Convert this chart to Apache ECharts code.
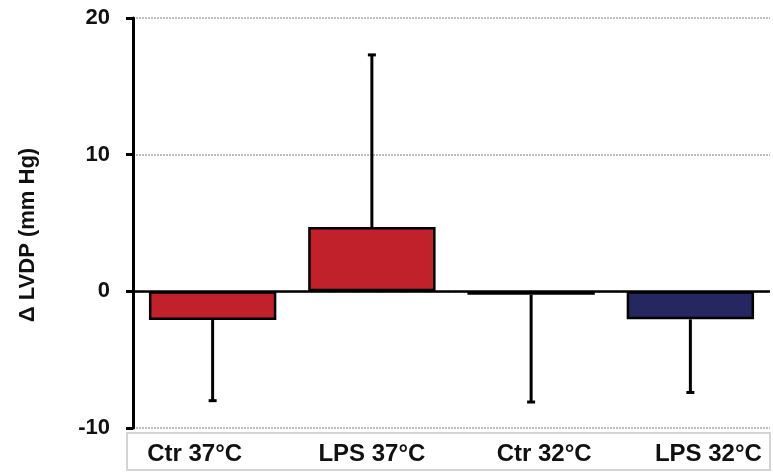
<!DOCTYPE html>
<html>
<head>
<meta charset="utf-8">
<script src="https://cdn.jsdelivr.net/npm/echarts@6/dist/echarts.min.js"></script>
<style>
  html, body { margin: 0; padding: 0; background: #fff; }
  #chart { width: 773px; height: 472px; }
</style>
</head>
<body>
<div id="chart"></div>
<script>
// Change in LVDP per group (mean and error-bar end), mm Hg
const categories = ['Ctr 37°C', 'LPS 37°C', 'Ctr 32°C', 'LPS 32°C'];
const means = [-2.1, 4.7, -0.25, -2.05];
const errorEnds = [-8.0, 17.3, -8.1, -7.4];
const barColors = ['#c1212a', '#c1212a', '#c1212a', '#262660'];
const yTicks = [-10, 0, 10, 20];
// horizontal nudges of the category labels (px, + = right)
const labelShift = [-18, 0, 13, 18];

const FONT = 'Liberation Sans, Arial, sans-serif';
const chart = echarts.init(document.getElementById('chart'));

const barData = means.map((v, i) => ({
  value: v,
  itemStyle: { color: barColors[i] }
}));

const errData = means.map((v, i) => [i, v, errorEnds[i]]);

function renderError(params, api) {
  const i = api.value(0);
  const p0 = api.coord([i, api.value(1)]);
  const p1 = api.coord([i, api.value(2)]);
  const cap = 4;
  const style = { stroke: '#000', lineWidth: 3 };
  return {
    type: 'group',
    children: [
      { type: 'line', shape: { x1: p0[0], y1: p0[1], x2: p1[0], y2: p1[1] }, style },
      { type: 'line', shape: { x1: p1[0] - cap, y1: p1[1], x2: p1[0] + cap, y2: p1[1] }, style }
    ]
  };
}

// one rich style per label so each can be nudged sideways
const rich = {};
labelShift.forEach((s, i) => {
  rich['c' + i] = {
    fontFamily: FONT,
    fontWeight: 'bold',
    fontSize: 24,
    color: '#111',
    padding: s < 0 ? [0, -2 * s, 0, 0] : [0, 0, 0, 2 * s]
  };
});

chart.setOption({
  animation: false,
  backgroundColor: '#fff',
  grid: { left: 133, right: 3, top: 18, bottom: 44 },
  xAxis: {
    type: 'category',
    data: categories,
    axisLine: { onZero: false, show: false },
    axisTick: { show: false },
    axisLabel: {
      margin: 14,
      rich,
      formatter: (val, idx) => '{c' + idx + '|' + val + '}'
    }
  },
  yAxis: {
    type: 'value',
    min: yTicks[0],
    max: yTicks[yTicks.length - 1],
    interval: 10,
    axisLine: { show: true, lineStyle: { color: '#000', width: 3 } },
    axisTick: { show: true, length: 7, lineStyle: { color: '#000', width: 3 } },
    axisLabel: {
      margin: 23,
      fontFamily: FONT,
      fontWeight: 'bold',
      fontSize: 22,
      color: '#111'
    },
    splitLine: { show: true, lineStyle: { color: '#a8a8a8', width: 1.5, type: [2, 1] } }
  },
  graphic: [
    {
      type: 'rect',
      shape: { x: 127, y: 433, width: 643, height: 37 },
      style: { fill: 'none', stroke: '#d4d4d4', lineWidth: 2 },
      z: 0
    },
    {
      type: 'text',
      x: 28,
      y: 235,
      rotation: Math.PI / 2,
      style: {
        text: 'Δ LVDP (mm Hg)',
        font: 'bold 22px ' + FONT,
        fill: '#111',
        align: 'center',
        verticalAlign: 'middle'
      }
    }
  ],
  series: [
    {
      type: 'bar',
      data: barData,
      barWidth: '80%',
      itemStyle: { borderColor: '#000', borderWidth: 2.5 },
      markLine: {
        silent: true,
        symbol: 'none',
        label: { show: false },
        lineStyle: { color: '#000', width: 2.5, type: 'solid' },
        data: [{ yAxis: 0 }],
        z: 1
      },
      z: 2
    },
    {
      type: 'custom',
      data: errData,
      renderItem: renderError,
      z: 3
    }
  ]
});
</script>
</body>
</html>
